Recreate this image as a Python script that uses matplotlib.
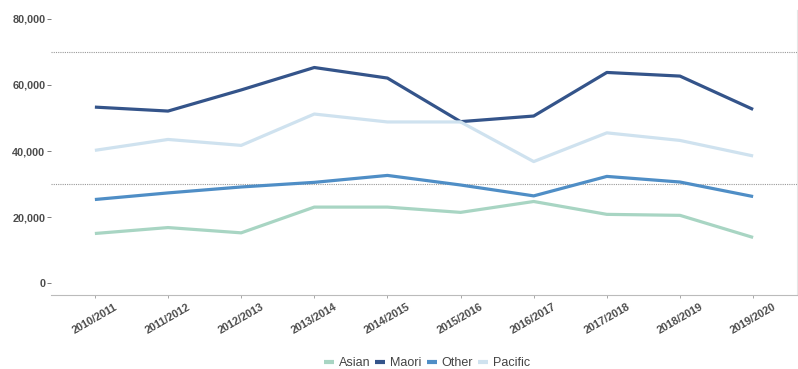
import matplotlib.pyplot as plt
import numpy as np

plt.rcParams['font.family'] = ['Liberation Sans', 'DejaVu Sans']

years = ['2010/2011', '2011/2012', '2012/2013', '2013/2014', '2014/2015',
         '2015/2016', '2016/2017', '2017/2018', '2018/2019', '2019/2020']

asian = [15000, 16800, 15200, 23000, 23000, 21400, 24700, 20800, 20500, 13800]
maori = [53300, 52100, 58500, 65300, 62100, 48900, 50600, 63800, 62700, 52600]
other = [25300, 27300, 29100, 30500, 32600, 29700, 26400, 32300, 30600, 26200]
pacific = [40200, 43500, 41700, 51200, 48800, 48800, 36800, 45500, 43200, 38500]

series = [
    ('Asian', asian, '#a8d5c3'),
    ('Maori', maori, '#34548a'),
    ('Other', other, '#4f8ec6'),
    ('Pacific', pacific, '#cfe2ef'),
]

fig = plt.figure(figsize=(7.98, 3.69), dpi=100)
ax = fig.add_axes([51 / 798, 74 / 369, 746 / 798, 285 / 369])

x = np.arange(len(years))
for name, vals, col in series:
    ax.plot(x, vals, color=col, lw=2.3, label=name, solid_capstyle='butt')

# reference lines
for ref in (70000, 30000):
    ax.axhline(ref, color='#999999', lw=0.8, ls=(0, (1, 1)), zorder=0)

ax.set_xlim(-0.6, 9.6)
ax.set_ylim(-3636, 82727)
ax.set_yticks([0, 20000, 40000, 60000, 80000])
ax.set_yticklabels(['0', '20,000', '40,000', '60,000', '80,000'])
ax.set_xticks(x)
ax.set_xticklabels(years, rotation=30, ha='center', va='top')

for lab in ax.get_xticklabels() + ax.get_yticklabels():
    lab.set_color('#4d4d4d')
    lab.set_fontsize(7.8)
    lab.set_fontweight('bold')

ax.tick_params(axis='y', length=3, width=0.6, color='#666666', pad=1)
ax.tick_params(axis='x', length=2, width=0.6, color='#999999', pad=3)

for s in ('top', 'left'):
    ax.spines[s].set_visible(False)
ax.spines['bottom'].set_color('#bbbbbb')
ax.spines['right'].set_color('#e6e6e6')

leg = fig.legend(loc='center', bbox_to_anchor=(427 / 798, 1 - 363 / 369), ncol=4,
                 frameon=False, fontsize=9, handlelength=0.8, handletextpad=0.4,
                 columnspacing=0.4, labelcolor='#444444', borderpad=0)
for h in leg.get_lines():
    h.set_linewidth(3)

fig.savefig('out.png', dpi=100)
